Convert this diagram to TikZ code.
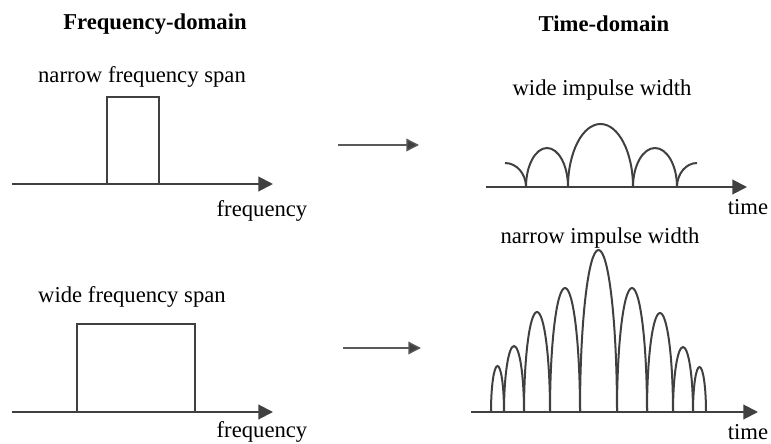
\documentclass[tikz,border=0pt]{standalone}
\usepackage{fontspec}
\setmainfont{Liberation Serif}
\definecolor{lineGray}{HTML}{404040}
\definecolor{arrowGray}{HTML}{5A5A5A}
\usetikzlibrary{arrows.meta}

\begin{document}
\begin{tikzpicture}[x=0.75pt, y=-0.75pt,
    axisLine/.style={draw=lineGray, line width=1.5pt, -{Triangle[length=11pt,width=11pt]}},
    shapeLine/.style={draw=lineGray, line width=1.5pt},
    mapArrow/.style={draw=arrowGray, line width=1pt, -{Triangle[length=9.5pt,width=9.5pt,fill=lineGray]}},
    caption/.style={inner sep=0pt, font=\fontsize{17}{20}\selectfont},
    heading/.style={inner sep=0pt, font=\fontsize{17}{20}\selectfont\bfseries}]
  \useasboundingbox (0,0) rectangle (771,443);

  % column headings
  \node[heading] (titleFreq) at (155,24) {Frequency-domain};
  \node[heading] (titleTime) at (604,24) {Time-domain};

  % top row: narrow span -> wide impulse
  \node[caption] (lblNarrowSpan) at (142,77) {narrow frequency span};
  \coordinate (freqTopStart) at (12,184);
  \coordinate (freqTopEnd) at (273,184);
  \draw[axisLine] (freqTopStart) -- (freqTopEnd);
  \draw[shapeLine] (107,184) rectangle (159,97);
  \node[caption] (lblFreqTop) at (262,211) {frequency};

  \coordinate (mapTopStart) at (338,145);
  \coordinate (mapTopEnd) at (419,145);
  \draw[mapArrow] (mapTopStart) -- (mapTopEnd);

  \node[caption] (lblWideImpulse) at (602,90) {wide impulse width};
  \coordinate (timeTopStart) at (486,187);
  \coordinate (timeTopEnd) at (747,187);
  \draw[axisLine] (timeTopStart) -- (timeTopEnd);
  \draw[shapeLine] (526,187) arc[start angle=0, end angle=-90, x radius=21, y radius=24];
  \foreach \xa/\xb/\peak in {526/568/148, 568/633/124, 633/677/148}
    \draw[shapeLine] (\xa,187) arc[start angle=180, end angle=360,
      x radius={(\xb-\xa)/2}, y radius={187-\peak}];
  \draw[shapeLine] (677,187) arc[start angle=180, end angle=270, x radius=20, y radius=24];
  \node[caption] (lblTimeTop) at (748,207) {time};

  % bottom row: wide span -> narrow impulse
  \node[caption] (lblWideSpan) at (132,297) {wide frequency span};
  \coordinate (freqBotStart) at (12,412);
  \coordinate (freqBotEnd) at (273,412);
  \draw[axisLine] (freqBotStart) -- (freqBotEnd);
  \draw[shapeLine] (77,412) rectangle (195,324);
  \node[caption] (lblFreqBot) at (262,432) {frequency};

  \coordinate (mapBotStart) at (343,348);
  \coordinate (mapBotEnd) at (421,348);
  \draw[mapArrow] (mapBotStart) -- (mapBotEnd);

  \node[caption] (lblNarrowImpulse) at (600,238) {narrow impulse width};
  \coordinate (timeBotStart) at (471,412);
  \coordinate (timeBotEnd) at (758,412);
  \draw[axisLine] (timeBotStart) -- (timeBotEnd);
  \foreach \xa/\xb/\peak in {491/504/366, 504/524/346, 524/550/312, 550/580/288,
      580/617/250, 617/647/288, 647/673/313, 673/693/347, 693/706/367}
    \draw[shapeLine] (\xa,412) arc[start angle=180, end angle=360,
      x radius={(\xb-\xa)/2}, y radius={412-\peak}];
  \node[caption] (lblTimeBot) at (748,432) {time};
\end{tikzpicture}
\end{document}
